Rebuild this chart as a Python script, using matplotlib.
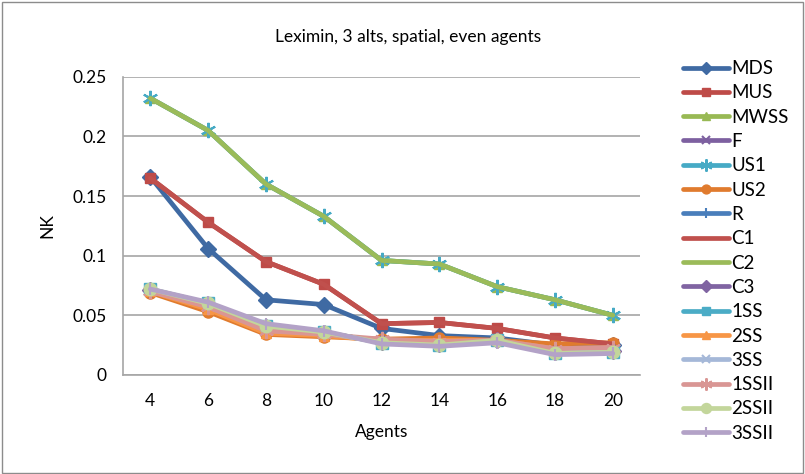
import matplotlib
matplotlib.use("Agg")
import matplotlib.pyplot as plt
from matplotlib.patches import Rectangle

plt.rcParams['font.family'] = ['Lato', 'DejaVu Sans']

agents = ["4", "6", "8", "10", "12", "14", "16", "18", "20"]

MDS   = [0.166, 0.106, 0.063, 0.059, 0.039, 0.033, 0.031, 0.025, 0.025]
MUS   = [0.165, 0.128, 0.095, 0.076, 0.043, 0.044, 0.039, 0.031, 0.026]
MWSS  = [0.232, 0.205, 0.160, 0.133, 0.096, 0.093, 0.074, 0.063, 0.050]
F     = [0.071, 0.059, 0.040, 0.035, 0.028, 0.026, 0.029, 0.019, 0.020]
US1   = [0.232, 0.205, 0.160, 0.133, 0.096, 0.093, 0.074, 0.063, 0.050]
US2   = [0.069, 0.053, 0.034, 0.032, 0.030, 0.031, 0.029, 0.026, 0.027]
R     = [0.071, 0.059, 0.040, 0.035, 0.028, 0.026, 0.029, 0.019, 0.020]
C1    = [0.165, 0.128, 0.095, 0.076, 0.043, 0.044, 0.039, 0.031, 0.026]
C2    = [0.232, 0.205, 0.160, 0.133, 0.096, 0.093, 0.074, 0.063, 0.050]
C3    = [0.071, 0.059, 0.040, 0.035, 0.028, 0.026, 0.029, 0.019, 0.020]
SS1   = [0.072, 0.060, 0.041, 0.036, 0.027, 0.025, 0.029, 0.018, 0.019]
SS2   = [0.070, 0.055, 0.035, 0.033, 0.029, 0.029, 0.029, 0.022, 0.023]
SS3   = [0.071, 0.059, 0.040, 0.035, 0.028, 0.026, 0.029, 0.019, 0.020]
SSII1 = [0.070, 0.057, 0.037, 0.034, 0.030, 0.028, 0.029, 0.022, 0.023]
SSII2 = [0.072, 0.060, 0.041, 0.036, 0.027, 0.025, 0.029, 0.018, 0.019]
SSII3 = [0.072, 0.061, 0.043, 0.037, 0.026, 0.024, 0.027, 0.017, 0.018]

names = ["MDS", "MUS", "MWSS", "F", "US1", "US2", "R", "C1", "C2", "C3",
         "1SS", "2SS", "3SS", "1SSII", "2SSII", "3SSII"]
series = [MDS, MUS, MWSS, F, US1, US2, R, C1, C2, C3, SS1, SS2, SS3, SSII1, SSII2, SSII3]
colors = ["#3F6AA3", "#BE4B48", "#98B954", "#7D60A0", "#46AAC5", "#E07B2E",
          "#4A7EBB", "#C0504D", "#9BBB59", "#8064A2", "#4BACC6", "#F79646",
          "#A5B8D8", "#D99694", "#C3D69B", "#B3A2C7"]
markers = ["D", "s", "^", "x", "*", "o", "|", None, None, "D", "s", "^", "x", "*", "o", "|"]
msizes = [8, 7, 7, 7, 11, 8, 9, 0, 0, 8, 8, 7, 7, 11, 9, 9]

fig = plt.figure(figsize=(8.05, 4.74), dpi=100)
fig.patches.append(Rectangle((0.002, 0.002), 0.996, 0.993, transform=fig.transFigure,
                             fill=False, edgecolor="#8C8C8C", linewidth=1))
ax = fig.add_axes([0.153, 0.209, 0.642, 0.629])

x = list(range(len(agents)))
handles = []
for name, ys, c, m, ms in zip(names, series, colors, markers, msizes):
    star = (m == "*")
    mk = (6, 2, 0) if star else m
    ln, = ax.plot(x, ys, color=c, linewidth=3.4, marker=mk, markersize=ms,
                  markeredgewidth=1.5 if (m in ("x", "|") or star) else 1,
                  markeredgecolor=c, markerfacecolor=c, label=name, solid_capstyle="round")
    handles.append(ln)

ax.set_xlim(-0.47, 8.47)
ax.set_ylim(0, 0.25)
ax.set_yticks([0, 0.05, 0.1, 0.15, 0.2, 0.25])
ax.set_yticklabels(["0", "0.05", "0.1", "0.15", "0.2", "0.25"])
ax.set_xticks(x)
ax.set_xticklabels(agents)
ax.grid(axis="y", color="#A6A6A6", linewidth=1.2)
ax.set_axisbelow(True)
for s in ["top", "right"]:
    ax.spines[s].set_visible(False)
for s in ["left", "bottom"]:
    ax.spines[s].set_color("#A6A6A6")
    ax.spines[s].set_linewidth(1.2)
ax.tick_params(axis="both", labelsize=12.5, length=0, colors="#000000")
ax.tick_params(axis="x", pad=13)
ax.tick_params(axis="y", pad=12)
ax.set_xlabel("Agents", fontsize=12.5, labelpad=11)
ax.set_ylabel("NK", fontsize=12.5, labelpad=12)
fig.text(0.507, 0.922, "Leximin, 3 alts, spatial, even agents", ha="center", va="center", fontsize=12.5)

fig.legend(handles=handles, loc="upper left", bbox_to_anchor=(0.839, 0.889), frameon=False,
           fontsize=13.5, handlelength=2.45, handletextpad=0.12, labelspacing=0.39,
           borderaxespad=0, markerscale=0.8)

fig.savefig("out.png", dpi=100)
